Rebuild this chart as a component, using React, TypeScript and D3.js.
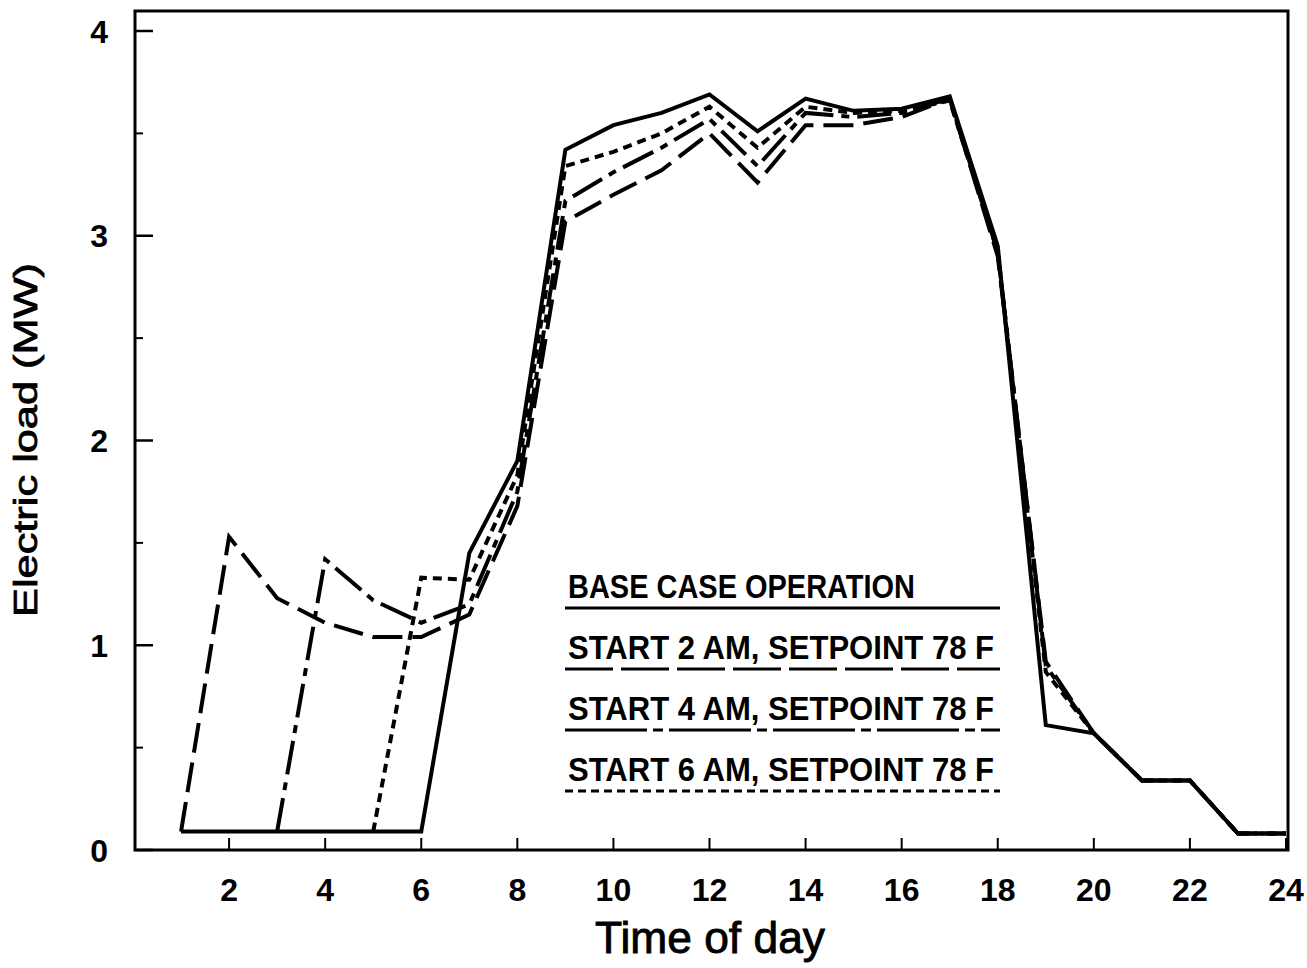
import React from 'react'
import * as d3 from 'd3'

// hours of the day (x categories)
const HOURS = [1, 2, 3, 4, 5, 6, 7, 8, 9, 10, 11, 12, 13, 14, 15, 16, 17, 18, 19, 20, 21, 22, 23, 24]

// electric load in MW
const BASE_CASE = [0.09, 0.09, 0.09, 0.09, 0.09, 0.09, 1.45, 1.9, 3.42, 3.54, 3.6, 3.69, 3.51, 3.67, 3.61, 3.62, 3.68, 2.95, 0.61, 0.57, 0.34, 0.34, 0.08, 0.08]
const START_2AM = [0.09, 1.53, 1.23, 1.11, 1.04, 1.04, 1.15, 1.68, 3.07, 3.2, 3.32, 3.5, 3.26, 3.54, 3.54, 3.58, 3.67, 2.9, 0.92, 0.57, 0.34, 0.34, 0.08, 0.08]
const START_4AM = [null, null, 0.09, 1.42, 1.22, 1.11, 1.2, 1.75, 3.17, 3.31, 3.43, 3.57, 3.34, 3.6, 3.58, 3.6, 3.67, 2.92, 0.9, 0.57, 0.34, 0.34, 0.08, 0.08]
const START_6AM = [null, null, null, null, 0.09, 1.33, 1.32, 1.83, 3.34, 3.41, 3.5, 3.63, 3.43, 3.63, 3.6, 3.61, 3.66, 2.92, 0.87, 0.57, 0.34, 0.34, 0.08, 0.08]

const LEGEND_LABELS = [
  'BASE CASE OPERATION',
  'START 2 AM, SETPOINT 78 F',
  'START 4 AM, SETPOINT 78 F',
  'START 6 AM, SETPOINT 78 F',
]

const X_TICKS = [2, 4, 6, 8, 10, 12, 14, 16, 18, 20, 22, 24]
const Y_TICKS = [0, 1, 2, 3, 4]
const Y_MINOR = [0.5, 1.5, 2.5, 3.5]

const WIDTH = 1307
const HEIGHT = 968
const FRAME = { LEFT: 135, TOP: 11, RIGHT: 1288, BOTTOM: 850 }

const series = [
  { values: BASE_CASE, dash: null, legendDash: null },
  { values: START_2AM, dash: '30 10', legendDash: '48 8' },
  { values: START_4AM, dash: '34 8 8 8', legendDash: '82 6 10 6' },
  { values: START_6AM, dash: '9 6', legendDash: '8 5' },
]

export default function App() {
  const x = d3.scaleLinear().domain([0, 24]).range([133, 1286])
  const y = d3.scaleLinear().domain([0, 4]).range([850, 31])

  const line = d3.line<number | null>()
    .defined(d => d !== null)
    .x((d, i) => x(HOURS[i]))
    .y(d => y(d as number))

  const font = "'Liberation Sans', Arial, sans-serif"

  return (
    <svg width={WIDTH} height={HEIGHT} style={{ position: 'absolute', left: 0, top: 0, background: '#fff' }}>
      <rect x={0} y={0} width={WIDTH} height={HEIGHT} fill="#fff" />

      {/* frame */}
      <rect
        x={FRAME.LEFT}
        y={FRAME.TOP}
        width={FRAME.RIGHT - FRAME.LEFT}
        height={FRAME.BOTTOM - FRAME.TOP}
        fill="none"
        stroke="#000"
        strokeWidth={3}
      />

      {/* x ticks, pointing inward */}
      {X_TICKS.map(t => (
        <g key={'xt' + t}>
          <line x1={x(t)} x2={x(t)} y1={FRAME.BOTTOM} y2={FRAME.BOTTOM - 12} stroke="#000" strokeWidth={2} />
          <text x={x(t)} y={901} textAnchor="middle" fontFamily={font} fontWeight="bold" fontSize={32}>{t}</text>
        </g>
      ))}

      {/* y ticks */}
      {Y_TICKS.map(t => (
        <g key={'yt' + t}>
          <line x1={FRAME.LEFT} x2={FRAME.LEFT + 18} y1={y(t)} y2={y(t)} stroke="#000" strokeWidth={2.5} />
          <text x={108} y={y(t)} dy="0.36em" textAnchor="end" fontFamily={font} fontWeight="bold" fontSize={32}>{t}</text>
        </g>
      ))}
      {Y_MINOR.map(t => (
        <line key={'ym' + t} x1={FRAME.LEFT} x2={FRAME.LEFT + 8} y1={y(t)} y2={y(t)} stroke="#000" strokeWidth={2} />
      ))}

      {/* axis titles */}
      <text x={595} y={953} fontFamily={font} fontSize={44} stroke="#000" strokeWidth={0.9}
        textLength={230} lengthAdjust="spacingAndGlyphs">Time of day</text>
      <text
        transform="translate(37,440) rotate(-90)"
        textAnchor="middle"
        fontFamily={font}
        fontSize={33}
        stroke="#000"
        strokeWidth={0.8}
        textLength={354}
        lengthAdjust="spacingAndGlyphs"
      >
        Electric load (MW)
      </text>

      {/* series lines */}
      {series.map((s, i) => (
        <path
          key={'s' + i}
          d={line(s.values) || ''}
          fill="none"
          stroke="#000"
          strokeWidth={4}
          strokeLinejoin="miter"
          strokeDasharray={s.dash || undefined}
        />
      ))}

      {/* legend */}
      {LEGEND_LABELS.map((label, i) => {
        const base = 598 + i * 61
        return (
          <g key={'lg' + i}>
            <text
              x={568}
              y={base}
              fontFamily={font}
              fontWeight="bold"
              fontSize={34}
              textLength={i === 0 ? 347 : 426}
              lengthAdjust="spacingAndGlyphs"
            >
              {label}
            </text>
            <line
              x1={565}
              x2={1000}
              y1={base + 10}
              y2={base + 10}
              stroke="#000"
              strokeWidth={3}
              strokeDasharray={series[i].legendDash || undefined}
            />
          </g>
        )
      })}
    </svg>
  )
}
